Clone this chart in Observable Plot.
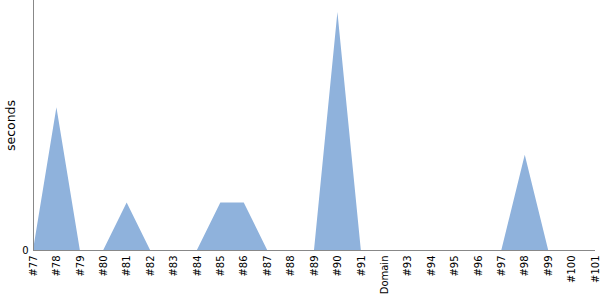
<!DOCTYPE html>
<html>
<head>
<meta charset="utf-8">
<script src="https://cdn.jsdelivr.net/npm/d3@7"></script>
<script src="https://cdn.jsdelivr.net/npm/@observablehq/plot@0.6"></script>
<style>
  html, body { margin: 0; padding: 0; background: #fff; }
  svg { font-family: "DejaVu Sans", sans-serif; }
</style>
</head>
<body>
<div id="chart"></div>
<script>
const categories = ["#77","#78","#79","#80","#81","#82","#83","#84","#85","#86","#87","#88","#89","#90","#91","Domain","#93","#94","#95","#96","#97","#98","#99","#100","#101"];
const seconds    = [0, 3, 0, 0, 1, 0, 0, 0, 1, 1, 0, 0, 0, 5, 0, 0, 0, 0, 0, 0, 0, 2, 0, 0, 0];
const yTicks = [0];

const data = categories.map((c, i) => ({cat: c, v: seconds[i]}));

const chart = Plot.plot({
  width: 600,
  height: 300,
  marginLeft: 33,
  marginRight: 5,
  marginTop: 0,
  marginBottom: 50,
  style: {fontFamily: "DejaVu Sans, sans-serif", fontSize: "10px", background: "#fff"},
  x: {type: "point", domain: categories, padding: 0, round: false},
  y: {domain: [0, 5.25]},
  marks: [
    Plot.areaY(data, {x: "cat", y: "v", fill: "#8fb2dc", curve: "linear"}),
    Plot.ruleY([0], {stroke: "#888", strokeWidth: 1}),
    Plot.ruleX([categories[0]], {stroke: "#888", strokeWidth: 1}),
    Plot.axisX({tickSize: 0, tickPadding: 5, tickRotate: -90, label: null, fill: "#000", fontSize: 10}),
    Plot.axisY(yTicks, {tickSize: 0, tickPadding: 5, label: null, fill: "#000", fontSize: 10}),
    Plot.text(["seconds"], {frameAnchor: "left", textAnchor: "middle", dx: -23, rotate: -90, fontSize: 12.5, fill: "#000"})
  ]
});
document.getElementById("chart").appendChild(chart);
</script>
</body>
</html>
